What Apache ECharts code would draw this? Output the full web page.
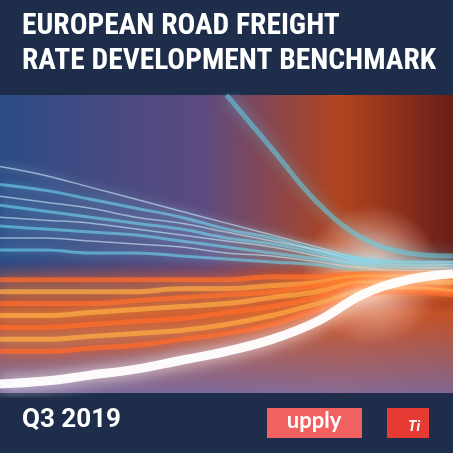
<!DOCTYPE html>
<html>
<head>
<meta charset="utf-8">
<script src="https://cdn.jsdelivr.net/npm/echarts@6/dist/echarts.min.js"></script>
<style>html,body{margin:0;padding:0;background:#1e2d4a}#chart{width:453px;height:453px}</style>
</head>
<body>
<div id="chart"></div>
<script>
// Cover texts
var titleLines = ['EUROPEAN ROAD FREIGHT', 'RATE DEVELOPMENT BENCHMARK'];
var quarter = 'Q3 2019';
var logoUpply = 'upply';
var logoTi = 'Ti';
// Light streaks, x positions 0..100 across the picture, y 0 (bottom) .. 100 (top)
var xs = [0, 10, 20, 30, 40, 50, 60, 70, 80, 90, 100];
var blueStreaks = [
    [76, 73, 69, 65, 61, 57, 53, 49, 45, 44, 44],
    [70, 68, 65, 62, 59, 55, 52, 48, 45, 44, 44],
    [66, 64, 62, 59, 57, 54, 51, 48, 44, 43, 43],
    [63, 61, 59, 57, 55, 52, 50, 47, 44, 43, 43],
    [59, 58, 57, 55, 53, 51, 49, 46, 43, 42, 42],
    [56, 55, 54, 53, 51, 49, 47, 45, 43, 42, 42],
    [52, 52, 51, 50, 49, 47, 46, 44, 42, 41, 41],
    [48, 48, 47, 47, 46, 45, 44, 43, 41, 40, 40]
];
var orangeStreaks = [
    [38, 38, 38, 38, 38, 38, 39, 39, 40, 40, 40],
    [34, 34, 34, 34, 35, 35, 36, 37, 39, 39, 39],
    [30, 30, 30, 31, 32, 33, 34, 36, 38, 38, 38],
    [26, 26, 27, 28, 29, 30, 32, 34, 37, 37, 37],
    [22, 22, 23, 24, 25, 27, 29, 32, 36, 36, 35],
    [18, 18, 19, 20, 21, 23, 26, 30, 34, 35, 34],
    [14, 14, 15, 16, 18, 20, 23, 28, 33, 34, 33]
];
var whiteStreak = [3, 4, 6, 8, 11, 14, 18, 24, 33, 38, 40];
var upperSwirl = [null, null, null, null, null, 100, 82, 64, 52, 47, 46];

var Charts = echarts.init(document.getElementById('chart'));
var series = [];
function streak(data, color, width, op, blur) {
    series.push({
        type: 'line', smooth: 0.4, symbol: 'none', silent: true,
        data: data,
        lineStyle: { color: color, width: width, opacity: op, shadowBlur: blur, shadowColor: color }
    });
}
blueStreaks.forEach(function (d, i) {
    streak(d, i % 2 ? '#6fd6ee' : '#cdefff', i % 2 ? 3 : 1.5, 0.6, 10);
});
orangeStreaks.forEach(function (d, i) {
    streak(d, i % 2 ? '#ffad45' : '#ff6a2a', 5, 0.75, 12);
});
streak(upperSwirl, '#5fd3ea', 5, 0.55, 14);
streak(whiteStreak, '#ffffff', 9, 0.95, 16);

Charts.setOption({
    animation: false,
    backgroundColor: '#1e2d4a',
    grid: { left: 0, top: 95, width: 453, height: 298 },
    xAxis: { type: 'category', data: xs, show: false, boundaryGap: false },
    yAxis: { type: 'value', min: 0, max: 100, show: false },
    graphic: [
        {
            type: 'rect', z: -10, shape: { x: 0, y: 95, width: 453, height: 298 },
            style: { fill: { type: 'linear', x: 0, y: 0, x2: 1, y2: 0, colorStops: [
                { offset: 0, color: '#2b4c85' }, { offset: 0.45, color: '#5e4a80' },
                { offset: 0.75, color: '#b2441e' }, { offset: 1, color: '#6a1e1a' }] } }
        },
        {
            type: 'rect', z: -9, shape: { x: 0, y: 260, width: 453, height: 133 },
            style: { fill: { type: 'linear', x: 0, y: 0, x2: 0, y2: 1, colorStops: [
                { offset: 0, color: 'rgba(180,60,40,0)' }, { offset: 0.4, color: 'rgba(210,90,40,0.85)' },
                { offset: 1, color: 'rgba(130,110,160,0.9)' }] } }
        },
        {
            type: 'circle', z: -8, shape: { cx: 372, cy: 275, r: 70 },
            style: { fill: { type: 'radial', x: 0.5, y: 0.5, r: 0.5, colorStops: [
                { offset: 0, color: 'rgba(255,255,255,1)' }, { offset: 0.3, color: 'rgba(255,230,220,0.7)' },
                { offset: 1, color: 'rgba(255,200,180,0)' }] } }
        },
        {
            type: 'text', x: 22, y: 9, scaleX: 1.18, scaleY: 1.2,
            style: { text: titleLines.join('\n'), fill: '#fff', font: 'bold 25px "Liberation Sans Narrow", "Roboto Condensed", Roboto, sans-serif', lineHeight: 29 }
        },
        {
            type: 'text', left: 22, top: 407,
            style: { text: quarter, fill: '#fff', font: 'bold 26px Roboto, sans-serif' }
        },
        {
            type: 'rect', shape: { x: 267, y: 408, width: 95, height: 30 },
            style: { fill: '#f0615f' }
        },
        {
            type: 'text', x: 314, y: 421,
            style: { text: logoUpply, fill: '#fff', font: 'bold 22px Lato, sans-serif', align: 'center', verticalAlign: 'middle' }
        },
        {
            type: 'rect', shape: { x: 387, y: 408, width: 42, height: 30 },
            style: { fill: '#e63a34' }
        },
        {
            type: 'text', x: 414, y: 427,
            style: { text: logoTi, fill: '#fff', font: 'italic bold 14px Roboto, sans-serif', align: 'center', verticalAlign: 'middle' }
        }
    ],
    series: series
});
</script>
</body>
</html>
